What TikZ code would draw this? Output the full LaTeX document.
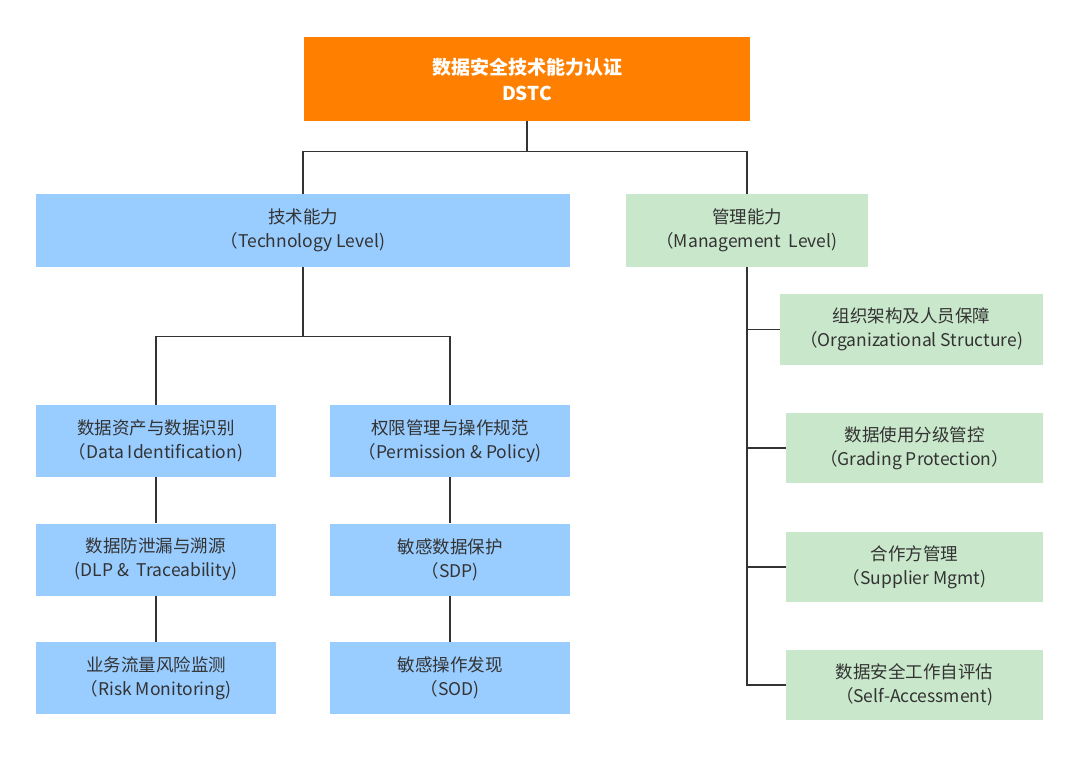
\documentclass[tikz,border=0pt]{standalone}
\usepackage{fontspec}
\setmainfont{Noto Sans CJK SC}
\usetikzlibrary{positioning}
\definecolor{dstcorange}{HTML}{FF8000}
\definecolor{techblue}{HTML}{99CCFF}
\definecolor{mgmtgreen}{HTML}{C9E7CB}
\definecolor{linegray}{HTML}{333333}
\definecolor{textgray}{HTML}{333333}

\begin{document}
\begin{tikzpicture}[x=1pt,y=-1pt,thick,
    box/.style={inner sep=0pt, align=center, font=\fontsize{17.5}{24}\selectfont, text=textgray},
    tech box/.style={box, fill=techblue, minimum width=240, minimum height=72},
    mgmt box/.style={box, fill=mgmtgreen, minimum width=257, minimum height=70},
    link/.style={draw=linegray, line width=1.3pt}]

                \useasboundingbox[fill=white] (0,0) rectangle (1080,757);

                % root
                \node[box, fill=dstcorange, text=white, minimum width=446, minimum height=84,
                      font=\bfseries\fontsize{19}{26}\selectfont] (dstc) at (527,79) {数据安全技术能力认证\\DSTC};

                % second level
                \node[box, fill=techblue, minimum width=534, minimum height=73] (tech) at (303,230.5) {技术能力\\（Technology Level)};
                \node[box, fill=mgmtgreen, minimum width=242, minimum height=73] (mgmt) at (747,230.5) {管理能力\\（Management~~Level)};

                % technology branches
                \node[tech box] (ident) at (156,441) {数据资产与数据识别\\（Data Identification)};
                \node[tech box] (dlp)   at (156,559.5) {数据防泄漏与溯源\\(DLP \&~~Traceability)};
                \node[tech box] (risk)  at (156,678) {业务流量风险监测\\（Risk Monitoring)};
                \node[tech box] (perm)  at (450,441) {权限管理与操作规范\\（Permission \& Policy)};
                \node[tech box] (sdp)   at (450,559.5) {敏感数据保护\\（SDP)};
                \node[tech box] (sod)   at (450,678) {敏感操作发现\\（SOD)};

                % management branches
                \node[mgmt box, minimum width=263, minimum height=71] (org) at (911.5,329.5) {组织架构及人员保障\\（Organizational Structure)};
                \node[mgmt box] (grade)  at (914.5,448) {数据使用分级管控\\（Grading Protection）};
                \node[mgmt box] (supply) at (914.5,567) {合作方管理\\（Supplier Mgmt)};
                \node[mgmt box] (self)   at (914.5,685) {数据安全工作自评估\\（Self-Accessment)};

                \path[link]
                    (dstc.south) -- ++(0,30) -| (tech.north)
                    (dstc.south) -- ++(0,30) -| (mgmt.north)

                    (tech.south) -- ++(0,69) -| (ident.north)
                    (tech.south) -- ++(0,69) -| (perm.north)

                    (ident) -- (dlp)
                    (dlp) -- (risk)
                    (perm) -- (sdp)
                    (sdp) -- (sod)

                    (mgmt.south) |- (org.west)
                    (mgmt.south) |- (grade.west)
                    (mgmt.south) |- (supply.west)
                    (mgmt.south) |- (self.west)
                ;
            \end{tikzpicture}
\end{document}
